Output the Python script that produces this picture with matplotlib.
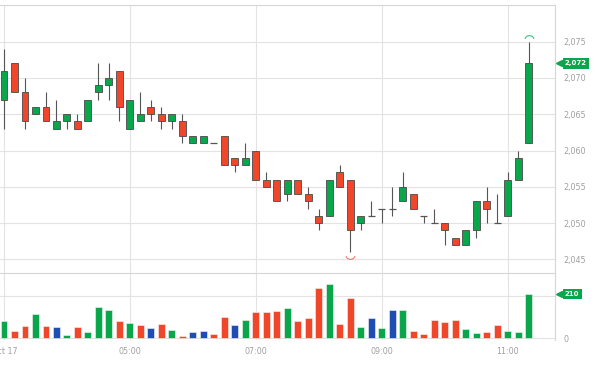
import numpy as np
import matplotlib
matplotlib.use("Agg")
import matplotlib.pyplot as plt
from matplotlib.path import Path
from matplotlib.transforms import ScaledTranslation, blended_transform_factory

# 10-minute candles, Oct 17 from 03:00
opens = [2067, 2072, 2068, 2065, 2066, 2063, 2064, 2064, 2064, 2068, 2069, 2071, 2063,
         2064, 2066, 2065, 2064, 2064, 2061, 2061, 2061, 2062, 2059, 2058, 2060, 2056,
         2056, 2054, 2056, 2054, 2051, 2051, 2057, 2056, 2050, 2051, 2052, 2052, 2053,
         2054, 2051, 2050, 2050, 2048, 2047, 2049, 2053, 2050, 2051, 2056, 2061]
closes = [2071, 2068, 2064, 2066, 2064, 2064, 2065, 2063, 2067, 2069, 2070, 2066, 2067,
          2065, 2065, 2064, 2065, 2062, 2062, 2062, 2061, 2058, 2058, 2059, 2056, 2055,
          2053, 2056, 2054, 2053, 2050, 2056, 2055, 2049, 2051, 2051, 2052, 2052, 2055,
          2052, 2051, 2050, 2049, 2047, 2049, 2053, 2052, 2050, 2056, 2059, 2072]
highs = [2074, 2072, 2070, 2066, 2068, 2067, 2065, 2065, 2067, 2072, 2072, 2071, 2067,
         2068, 2067, 2066, 2065, 2065, 2062, 2062, 2061, 2062, 2059, 2061, 2060, 2057,
         2056, 2056, 2056, 2055, 2052, 2056, 2058, 2056, 2051, 2053, 2052, 2055, 2057,
         2054, 2051, 2052, 2050, 2048, 2049, 2053, 2055, 2054, 2057, 2060, 2075]
lows = [2063, 2068, 2063, 2065, 2064, 2063, 2063, 2063, 2064, 2067, 2067, 2064, 2063,
        2064, 2064, 2063, 2063, 2061, 2061, 2061, 2061, 2058, 2057, 2058, 2056, 2055,
        2053, 2053, 2054, 2052, 2049, 2051, 2055, 2046, 2049, 2051, 2050, 2051, 2053,
        2052, 2050, 2050, 2047, 2047, 2047, 2048, 2050, 2050, 2051, 2056, 2061]
volumes = [82, 35, 60, 113, 60, 52, 17, 52, 30, 146, 133, 82, 72,
           63, 50, 66, 41, 13, 31, 36, 20, 102, 64, 85, 125, 122,
           127, 144, 82, 97, 237, 254, 66, 188, 55, 94, 50, 132, 132,
           36, 19, 88, 77, 85, 44, 25, 28, 64, 36, 31, 210]
vol_kind = ['u', 'd', 'd', 'u', 'd', 'n', 'u', 'd', 'u', 'u', 'u', 'd', 'u',
            'd', 'n', 'd', 'u', 'd', 'n', 'n', 'd', 'd', 'n', 'u', 'd', 'd',
            'd', 'u', 'd', 'd', 'd', 'u', 'd', 'd', 'u', 'n', 'u', 'n', 'u',
            'd', 'd', 'd', 'd', 'd', 'u', 'u', 'd', 'd', 'u', 'u', 'u']
tick_pos = [0, 12, 24, 36, 48]
tick_labels = ["Oct 17", "05:00", "07:00", "09:00", "11:00"]
price_ticks = [2045, 2050, 2055, 2060, 2065, 2070, 2075]

GREEN = '#0aa64c'
RED = '#f0472b'
BLUE = '#1f4db3'
GRID = '#e3e3e3'
kind_color = {'u': GREEN, 'd': RED, 'n': BLUE}

x = np.arange(len(opens))
opens = np.array(opens, float)
closes = np.array(closes, float)

fig = plt.figure(figsize=(6, 3.65), dpi=100)
ax = fig.add_axes([0, 1 - 273.3 / 365, 555 / 600, (273.3 - 5) / 365])
axv = fig.add_axes([0, 1 - 340.4 / 365, 555 / 600, (340.4 - 273.3) / 365])

for a in (ax, axv):
    a.set_xlim(-0.38, 52.5)
    a.set_xticks(tick_pos)
    a.grid(True, color=GRID, lw=0.8)
    a.set_axisbelow(True)
    a.tick_params(length=0, colors='#a0a0a0', labelsize=5.8)
    for s in ('left', 'bottom'):
        a.spines[s].set_visible(False)
    for s in ('top', 'right'):
        a.spines[s].set_color('#d6d6d6')
    a.yaxis.tick_right()

ax.set_ylim(2043.07, 2080.06)
ax.set_yticks(price_ticks)
ax.set_yticklabels([f"{v:,}" for v in price_ticks])
ax.set_xticklabels([])
ax.tick_params(axis='y', pad=6)

# candles
w = 0.66
for i in x:
    o, c = opens[i], closes[i]
    ax.vlines(i, lows[i], highs[i], color='#555555', lw=0.8, zorder=2)
    if o == c:
        ax.hlines(o, i - w / 2, i + w / 2, color='#555555', lw=0.9, zorder=3)
    else:
        col = GREEN if c > o else RED
        ax.bar(i, abs(c - o), bottom=min(o, c), width=w, color=col,
               edgecolor='#4a4a4a', lw=0.6, zorder=3)

# high / low markers
up_arc = Path.arc(20, 160)
dn_arc = Path.arc(200, 340)
ih = int(np.argmax(highs))
il = int(np.argmin(lows))
ax.plot(ih, highs[ih], marker=up_arc, ms=7, mfc='none', mec='#3cc47c', mew=0.8,
        ls='none', transform=ax.transData + ScaledTranslation(0, 1.5 / 72, fig.dpi_scale_trans),
        clip_on=False)
ax.plot(il, lows[il], marker=dn_arc, ms=7, mfc='none', mec='#f07a68', mew=0.8,
        ls='none', transform=ax.transData + ScaledTranslation(0, -1.5 / 72, fig.dpi_scale_trans),
        clip_on=False)

# last price tag
tr = blended_transform_factory(ax.transAxes, ax.transData)
last = closes[-1]
ax.text(1.018, last, f"{int(last):,}", transform=tr, ha='left', va='center',
        fontsize=5, fontweight='bold', color='white', clip_on=False,
        bbox=dict(boxstyle='square,pad=0.3', fc=GREEN, ec='none'))
ax.plot([1.008], [last], marker='<', ms=4.5, color=GREEN, transform=tr, clip_on=False)

# volume
axv.bar(x, volumes, width=w, color=[kind_color[k] for k in vol_kind],
        edgecolor='#f4f4f4', lw=0.4, zorder=2)
axv.set_ylim(-10, 306)
axv.set_yticks([0, 200])
axv.set_yticklabels(['0', ''])
axv.tick_params(axis='y', pad=6)
axv.set_xticklabels(tick_labels)
axv.tick_params(axis='x', pad=5)

trv = blended_transform_factory(axv.transAxes, axv.transData)
axv.text(1.018, volumes[-1], f"{volumes[-1]}", transform=trv, ha='left', va='center',
         fontsize=5, fontweight='bold', color='white', clip_on=False,
         bbox=dict(boxstyle='square,pad=0.3', fc=GREEN, ec='none'))
axv.plot([1.008], [volumes[-1]], marker='<', ms=4.5, color=GREEN, transform=trv, clip_on=False)

fig.savefig('out.png', dpi=100)
